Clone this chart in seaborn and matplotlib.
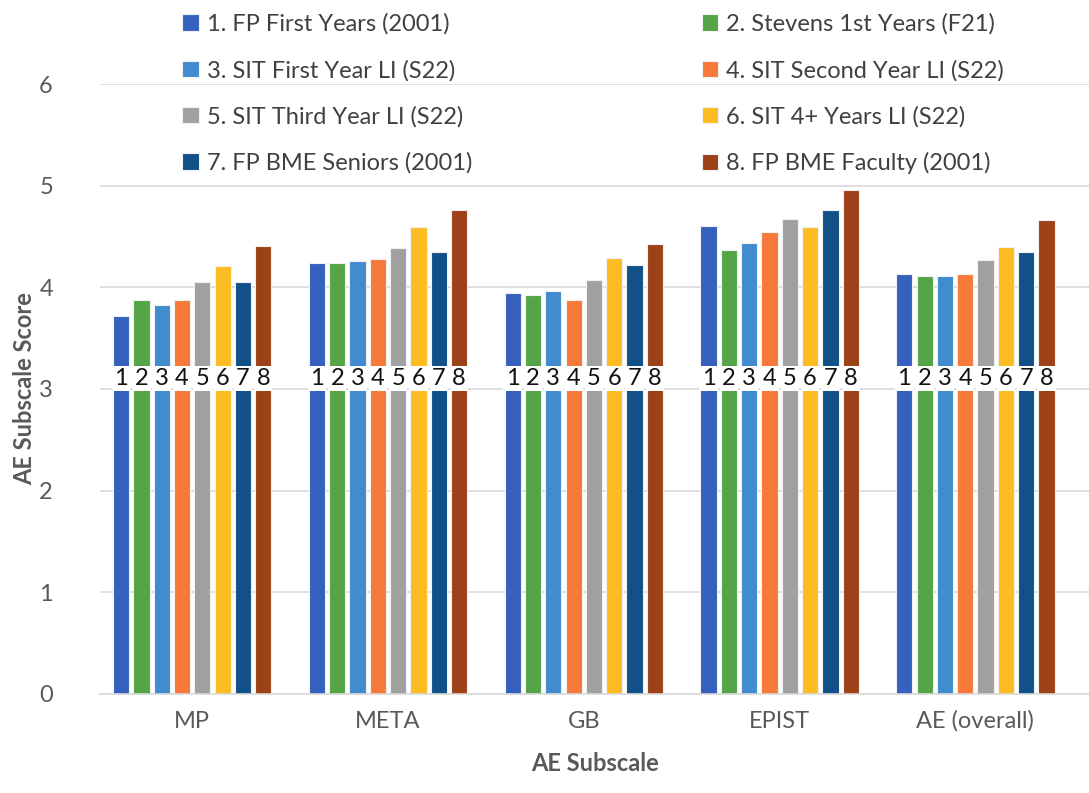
import matplotlib
matplotlib.use("Agg")
import matplotlib.pyplot as plt
import seaborn as sns
import pandas as pd

subscales = ["MP", "META", "GB", "EPIST", "AE (overall)"]
groups = [
    "1. FP First Years (2001)",
    "2. Stevens 1st Years (F21)",
    "3. SIT First Year LI (S22)",
    "4. SIT Second Year LI (S22)",
    "5. SIT Third Year LI (S22)",
    "6. SIT 4+ Years LI (S22)",
    "7. FP BME Seniors (2001)",
    "8. FP BME Faculty (2001)",
]
short_labels = ["1", "2", "3", "4", "5", "6", "7", "8"]

# scores per group, in subscale order
fp_first = [3.72, 4.24, 3.94, 4.60, 4.13]
stevens_first = [3.88, 4.24, 3.92, 4.37, 4.11]
sit_first = [3.83, 4.26, 3.96, 4.44, 4.11]
sit_second = [3.88, 4.28, 3.88, 4.54, 4.13]
sit_third = [4.05, 4.39, 4.07, 4.67, 4.27]
sit_fourth = [4.21, 4.59, 4.29, 4.59, 4.40]
fp_seniors = [4.05, 4.35, 4.22, 4.76, 4.35]
fp_faculty = [4.41, 4.76, 4.43, 4.96, 4.66]

series = [fp_first, stevens_first, sit_first, sit_second,
          sit_third, sit_fourth, fp_seniors, fp_faculty]
colors = ["#3560BE", "#55A546", "#418BCF", "#F7793A",
          "#A0A0A0", "#FDBD22", "#115089", "#9C4118"]

rows = []
for g, vals in zip(groups, series):
    for s, v in zip(subscales, vals):
        rows.append({"Subscale": s, "Group": g, "Score": v})
df = pd.DataFrame(rows)

sns.set_theme(style="white")
plt.rcParams["font.family"] = ["Lato", "DejaVu Sans"]

fig = plt.figure(figsize=(10.89, 7.93), dpi=100)
ax = fig.add_axes([0.092, 0.125, 0.908, 0.769])

sns.barplot(data=df, x="Subscale", y="Score", hue="Group",
            order=subscales, hue_order=groups, palette=colors,
            saturation=1, width=0.83, gap=0.2, ax=ax, edgecolor="#f0f0f0",
            linewidth=0.8, legend=True, zorder=2)

ax.set_xlim(-0.47, 4.58)
ax.set_ylim(0, 6)
ax.set_yticks(range(0, 7))
ax.yaxis.grid(True, color="#d9d9d9", linewidth=1.2, zorder=0)
ax.set_axisbelow(True)
for side in ["top", "right", "left"]:
    ax.spines[side].set_visible(False)
ax.spines["bottom"].set_color("#d9d9d9")
ax.spines["bottom"].set_linewidth(1.2)
ax.tick_params(axis="both", length=0, labelsize=17, colors="#595959", pad=12)
ax.tick_params(axis="y", pad=34)

ax.set_xlabel("AE Subscale", fontsize=17, fontweight="bold", color="#595959", labelpad=14)
ax.set_ylabel("AE Subscale Score", fontsize=17, fontweight="bold", color="#595959", labelpad=2)

# numbered tags on each bar, on a white strip just above 3
n_sub = len(subscales)
for i, patch in enumerate(ax.patches[: n_sub * len(groups)]):
    gi = i // n_sub
    xc = patch.get_x() + patch.get_width() / 2
    ax.text(xc, 3.0, short_labels[gi], ha="center", va="bottom",
            fontsize=17, color="#111111", zorder=5,
            bbox=dict(facecolor="white", edgecolor="none", boxstyle="square,pad=0.1"))

# legend filled row by row: 1 2 / 3 4 / 5 6 / 7 8
handles, labels = ax.get_legend_handles_labels()
ax.get_legend().remove()
order = [0, 2, 4, 6, 1, 3, 5, 7]
fig.legend([handles[k] for k in order], [labels[k] for k in order],
           ncol=2, loc="upper left", bbox_to_anchor=(0.148, 1.01),
           frameon=False, fontsize=17, labelcolor="#404040",
           handlelength=0.7, handleheight=0.7, handletextpad=0.35,
           columnspacing=9.7, labelspacing=1.05)

fig.savefig("out.png", dpi=100, facecolor="white")
